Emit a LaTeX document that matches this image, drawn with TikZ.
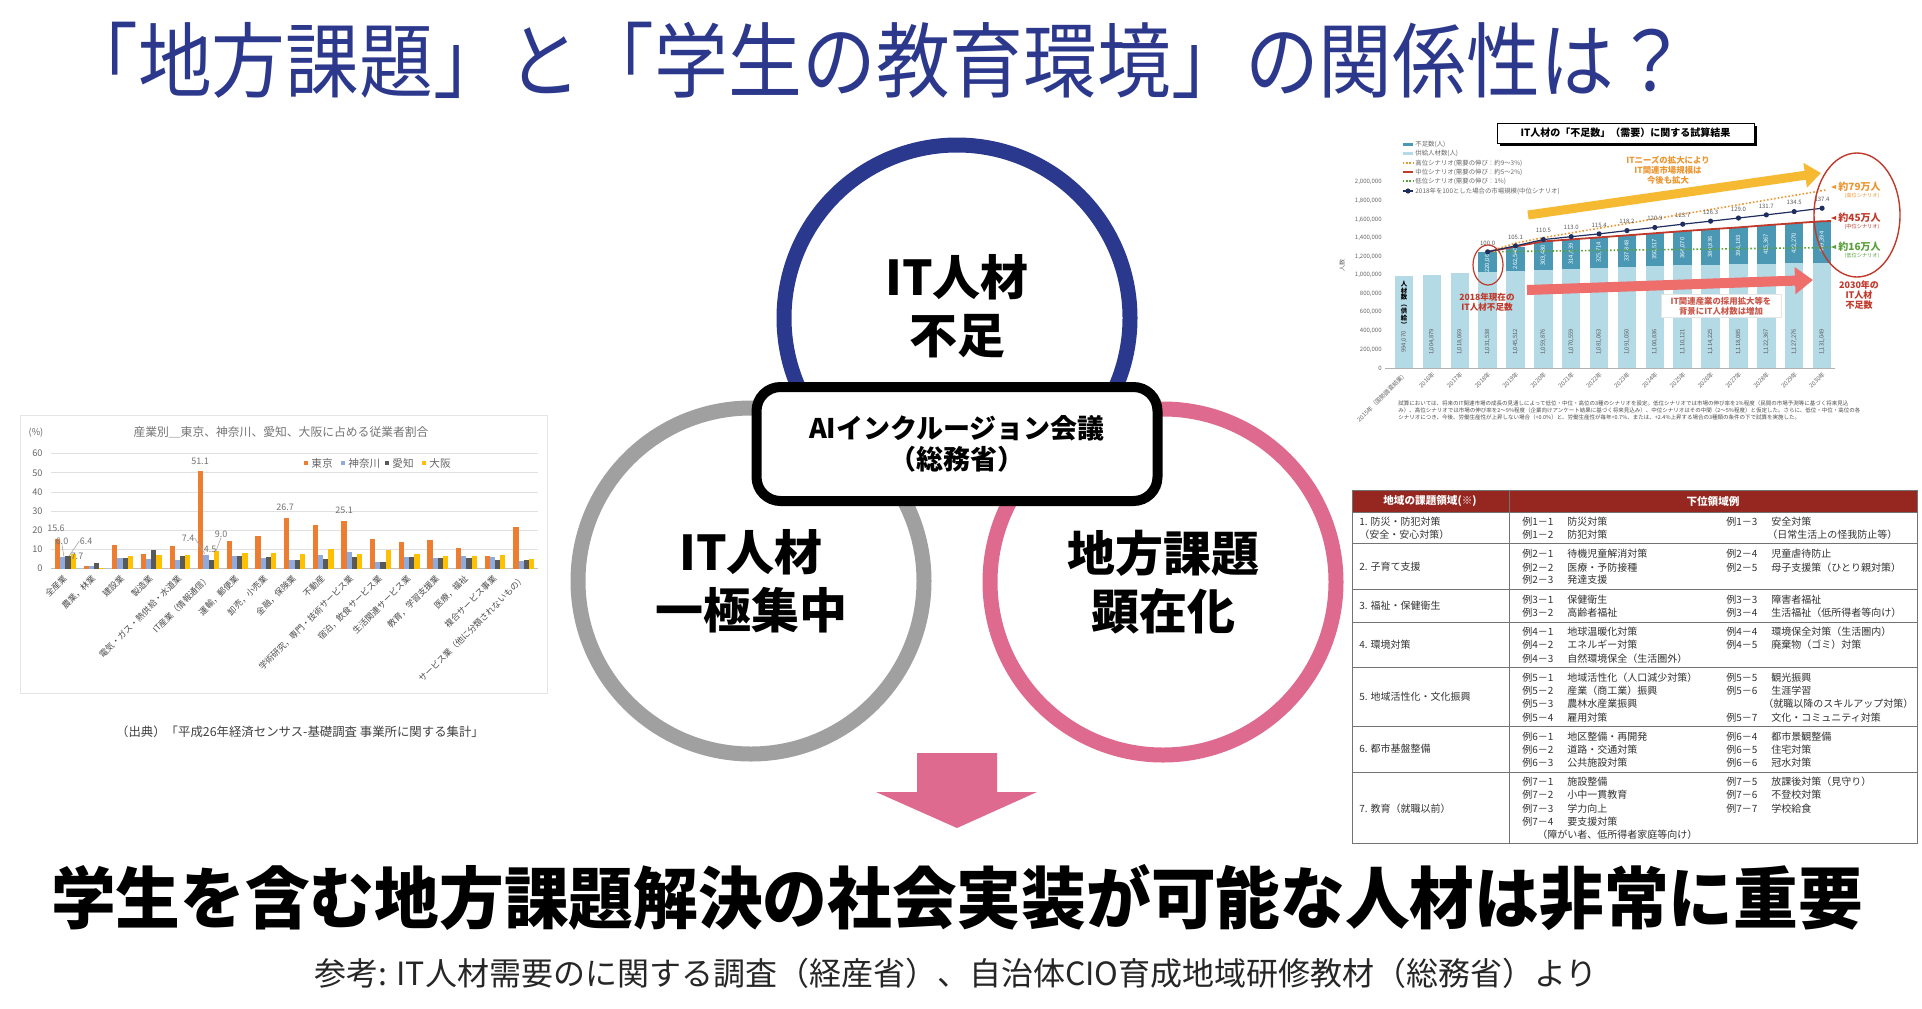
\documentclass[tikz,border=0pt]{standalone}
\usepackage{fontspec}
\setmainfont{Noto Sans CJK JP}
\usetikzlibrary{positioning,arrows.meta}

\definecolor{titleblue}{RGB}{44,56,140}
\definecolor{ringnavy}{RGB}{42,57,142}
\definecolor{ringgray}{RGB}{160,160,160}
\definecolor{ringpink}{RGB}{222,107,143}
\definecolor{bartokyo}{RGB}{237,125,49}
\definecolor{barkanagawa}{RGB}{143,170,220}
\definecolor{baraichi}{RGB}{89,89,89}
\definecolor{barosaka}{RGB}{255,192,0}
\definecolor{supplyblue}{RGB}{180,218,230}
\definecolor{shortteal}{RGB}{74,152,180}
\definecolor{marketnavy}{RGB}{31,45,95}
\definecolor{midred}{RGB}{192,57,43}
\definecolor{highorange}{RGB}{236,150,50}
\definecolor{lowgreen}{RGB}{90,160,60}
\definecolor{needyellow}{RGB}{246,185,50}
\definecolor{growsalmon}{RGB}{238,110,108}
\definecolor{tablered}{RGB}{150,38,32}
\definecolor{tabletext}{RGB}{50,50,50}

\newcommand\fsz[2]{\fontsize{#1pt}{#2pt}\selectfont}
\newcommand\ex[2]{\makebox[22.5pt][l]{#1}#2}

\begin{document}
\begin{tikzpicture}[x=0.5pt, y=-0.5pt,
  ring/.style={circle, draw, line width=7.5pt, minimum size=173pt, inner sep=0pt},
  ringtext/.style={align=center, inner sep=0pt, font=\fsz{24}{29}\bfseries},
  gridline/.style={draw=black!12, line width=0.4pt},
  indaxis/.style={font=\fsz{4.6}{5}, text=black!60, inner sep=0pt},
  catlabel/.style={font=\fsz{4.3}{5}, text=black!70, inner sep=0pt, rotate=45, anchor=east},
  datalabel/.style={font=\fsz{4.5}{5}, text=black!55, inner sep=0pt},
  legtext/.style={font=\fsz{5.3}{6}, text=black!60, inner sep=0pt, anchor=west},
  gapaxis/.style={font=\fsz{3}{3.5}, text=black!60, inner sep=0pt},
  gaplegend/.style={font=\fsz{3.2}{4}, text=black!60, inner sep=0pt, anchor=west},
  barlabel/.style={font=\fsz{2.9}{3.5}, inner sep=0pt, rotate=90},
  mktdot/.style={circle, fill=marketnavy, inner sep=0pt, minimum size=2.6pt},
  mktlabel/.style={font=\fsz{3}{3.5}, text=black!65, inner sep=0pt},
  tabtext/.style={font=\fsz{5}{6}, text=tabletext, inner sep=0pt, anchor=west},
  tabhead/.style={font=\fsz{5.3}{6}\bfseries, text=white, inner sep=0pt}
]
\useasboundingbox (0,0) rectangle (1922,1008);

% title
\node[font=\fsz{41}{44}, text=titleblue, inner sep=0pt] (title) at (876,60) {\scalebox{0.9}[1]{「地方課題」と「学生の教育環境」の関係性は？}};

% left chart: industry shares
\draw[black!10, line width=0.5pt] (20,415) rectangle (547,693);
\node[font=\fsz{5.9}{7}, text=black!55, inner sep=0pt] (indtitle) at (281,432) {産業別＿東京、神奈川、愛知、大阪に占める従業者割合};
\node[indaxis] (pct) at (36,433) {(\%)};
\foreach \v in {10,20,...,60} {
  \draw[gridline] (51,{568.7-1.917*\v}) -- (538,{568.7-1.917*\v});
}
\draw[black!25, line width=0.4pt] (51,568.7) -- (538,568.7);
\foreach \v in {0,10,...,60} {
  \node[indaxis, anchor=east] (tick\v) at (43,{568.7-1.917*\v}) {\v};
}
\foreach \i/\a/\b/\c/\d in {0/15.6/6.0/6.4/7.7, 1/1.4/1.5/2.8/0.5, 2/12.5/5.5/5.5/6.4, 3/7.8/5.0/9.9/7.0,
  4/12.0/4.5/6.6/7.3, 5/51.1/7.4/4.5/9.0, 6/14.6/6.5/6.5/8.0, 7/16.9/5.5/6.3/8.3, 8/26.7/4.3/4.5/7.8,
  9/23.0/7.3/5.0/10.4, 10/25.1/8.7/5.9/7.8, 11/15.7/3.5/3.5/10.0, 12/13.7/6.3/6.3/7.5, 13/14.8/5.7/5.7/6.8,
  14/11.0/6.5/5.7/6.6, 15/6.8/6.2/4.8/7.2, 16/21.6/4.0/4.8/5.0} {
  \pgfmathsetmacro\cx{51+28.65*(\i+0.5)}
  \fill[bartokyo] ({\cx-10.4},568.7) rectangle ({\cx-5.2},{568.7-1.917*\a});
  \fill[barkanagawa] ({\cx-5.2},568.7) rectangle ({\cx},{568.7-1.917*\b});
  \fill[baraichi] ({\cx},568.7) rectangle ({\cx+5.2},{568.7-1.917*\c});
  \fill[barosaka] ({\cx+5.2},568.7) rectangle ({\cx+10.4},{568.7-1.917*\d});
}
\foreach \i/\t in {0/全産業, 1/農業，林業, 2/建設業, 3/製造業, 4/電気・ガス・熱供給・水道業, 5/IT産業（情報通信）,
  6/運輸，郵便業, 7/卸売，小売業, 8/金融，保険業, 9/不動産, 10/学術研究，専門・技術サービス業,
  11/宿泊，飲食サービス業, 12/生活関連サービス業, 13/教育，学習支援業, 14/医療，福祉, 15/複合サービス事業,
  16/サービス業（他に分類されないもの）} {
  \node[catlabel] (cat\i) at ({51+28.65*(\i+0.5)},577) {\t};
}
% legend
\fill[bartokyo] (304,461) rectangle (308,465);
\node[legtext] (legtokyo) at (311,463) {東京};
\fill[barkanagawa] (341,461) rectangle (345,465);
\node[legtext] (legkanagawa) at (348,463) {神奈川};
\fill[baraichi] (385,461) rectangle (389,465);
\node[legtext] (legaichi) at (392,463) {愛知};
\fill[barosaka] (422,461) rectangle (426,465);
\node[legtext] (legosaka) at (429,463) {大阪};
% data labels
\node[datalabel] (lab156) at (56,528) {15.6};
\node[datalabel] (lab60) at (62,541) {6.0};
\node[datalabel] (lab64) at (86,541) {6.4};
\node[datalabel] (lab77) at (77,556) {7.7};
\node[datalabel] (lab511) at (200,461) {51.1};
\node[datalabel] (lab74) at (188,538) {7.4};
\node[datalabel] (lab45) at (210,549) {4.5};
\node[datalabel] (lab90) at (221,534) {9.0};
\node[datalabel] (lab267) at (285,507) {26.7};
\node[datalabel] (lab251) at (344,510) {25.1};
\draw[black!35, line width=0.3pt] (lab60.south) -- (64,557);
\draw[black!35, line width=0.3pt] (lab64.west) -- (69,556);
\draw[black!35, line width=0.3pt] (lab74.east) -- (205,554);
\draw[black!35, line width=0.3pt] (lab90.south) -- (216,551);
\node[font=\fsz{6.2}{7}, text=black!75, inner sep=0pt] (indsource) at (300,732) {（出典）「平成26年経済センサス-基礎調査 事業所に関する集計」};

% right chart: IT staff shortage
\fill[black] (1500,126) rectangle (1757,146);
\node[draw=black, fill=white, line width=0.4pt, minimum width=128.5pt, minimum height=10pt, inner sep=0pt,
  font=\fsz{5}{6}\bfseries] (gaptitle) at (1625.5,133) {IT人材の「不足数」（需要）に関する試算結果};
\fill[shortteal] (1403,142.5) rectangle (1413,145.5);
\node[gaplegend] (lgshort) at (1415,144) {不足数(人)};
\fill[supplyblue] (1403,151.5) rectangle (1413,154.5);
\node[gaplegend] (lgsupply) at (1415,153) {供給人材数(人)};
\draw[highorange, line width=0.7pt, dash pattern=on 0.7pt off 0.9pt] (1403,163) -- (1413,163);
\node[gaplegend] (lghigh) at (1415,163) {高位シナリオ(需要の伸び：約9〜3\%)};
\draw[midred, line width=0.8pt] (1403,172) -- (1413,172);
\node[gaplegend] (lgmid) at (1415,172) {中位シナリオ(需要の伸び：約5〜2\%)};
\draw[lowgreen, line width=0.7pt, dash pattern=on 0.7pt off 0.9pt] (1403,181) -- (1413,181);
\node[gaplegend] (lglow) at (1415,181) {低位シナリオ(需要の伸び：1\%)};
\draw[marketnavy, line width=0.6pt] (1403,191) -- (1413,191);
\node[mktdot] (lgdot) at (1408,191) {};
\node[gaplegend] (lgmkt) at (1415,191) {2018年を100とした場合の市場規模(中位シナリオ)};

\foreach \v/\t in {0/0, 200/{200,000}, 400/{400,000}, 600/{600,000}, 800/{800,000}, 1000/{1,000,000},
  1200/{1,200,000}, 1400/{1,400,000}, 1600/{1,600,000}, 1800/{1,800,000}, 2000/{2,000,000}} {
  \node[gapaxis, anchor=east] (gy\v) at (1382,{368-0.09285*\v}) {\t};
}
\node[gapaxis, rotate=90] (gapylab) at (1342,265) {人数};
\draw[black!30, line width=0.4pt] (1385,368) -- (1835,368);

\foreach \i/\s/\lab in {0/994.07/{994,070}, 1/1004.879/{1,004,879}, 2/1018.069/{1,018,069}, 3/1031.538/{1,031,538},
  4/1045.512/{1,045,512}, 5/1059.876/{1,059,876}, 6/1070.559/{1,070,559}, 7/1081.063/{1,081,063},
  8/1091.050/{1,091,050}, 9/1100.836/{1,100,836}, 10/1110.121/{1,110,121}, 11/1114.225/{1,114,225},
  12/1118.085/{1,118,085}, 13/1122.367/{1,122,367}, 14/1127.276/{1,127,276}, 15/1131.049/{1,131,049}} {
  \pgfmathsetmacro\cx{1404+27.87*\i}
  \pgfmathsetmacro\ys{368-0.09285*\s}
  \fill[supplyblue] ({\cx-9.25},368) rectangle ({\cx+9.25},\ys);
  \node[barlabel, text=black!65] (supply\i) at (\cx,342) {\lab};
}
\foreach \i/\s/\d/\lab in {3/1031.538/220.064/{220,064}, 4/1045.512/262.54/{262,540}, 5/1059.876/303.48/{303,480},
  6/1070.559/314.439/{314,439}, 7/1081.063/325.714/{325,714}, 8/1091.050/337.848/{337,848},
  9/1100.836/350.517/{350,517}, 10/1110.121/364.07/{364,070}, 11/1114.225/380.836/{380,836},
  12/1118.085/396.183/{396,183}, 13/1122.367/415.367/{415,367}, 14/1127.276/432.27/{432,270},
  15/1131.049/449.394/{449,394}} {
  \pgfmathsetmacro\cx{1404+27.87*\i}
  \pgfmathsetmacro\ys{368-0.09285*\s}
  \pgfmathsetmacro\yt{368-0.09285*(\s+\d)}
  \fill[shortteal] ({\cx-9.25},\ys) rectangle ({\cx+9.25},\yt);
  \coordinate (tot\i) at (\cx,\yt);
  \node[barlabel, text=white] (short\i) at (\cx,{(\ys+\yt)/2}) {\lab};
}
\node[font=\fsz{3.2}{3.4}\bfseries, align=center, inner sep=0pt] (supplyword) at (1404,304) {人\\材\\数\\︵\\供\\給\\︶};

\foreach \i/\t in {0/2015年（国勢調査結果）, 1/2016年, 2/2017年, 3/2018年, 4/2019年, 5/2020年, 6/2021年, 7/2022年,
  8/2023年, 9/2024年, 10/2025年, 11/2026年, 12/2027年, 13/2028年, 14/2029年, 15/2030年} {
  \node[gapaxis, rotate=45, anchor=east] (gx\i) at ({1404+27.87*\i+2},373) {\t};
}

% scenario lines
\draw[lowgreen, line width=0.8pt, dash pattern=on 0.8pt off 1pt] (tot3) -- (1833,247.5);
\draw[highorange, line width=0.8pt, dash pattern=on 0.8pt off 1pt] (tot3) -- (1516,243) -- (1544,237.5) -- (1826,190);
\draw[midred, line width=0.9pt] (tot3) \foreach \j in {4,...,15} { -- (tot\j)} -- ++(9,-0.2);
\foreach \i/\m in {3/100.0, 4/105.1, 5/110.5, 6/113.0, 7/115.4, 8/118.2, 9/120.9, 10/123.7, 11/126.3,
  12/129.0, 13/131.7, 14/134.5, 15/137.4} {
  \coordinate (mkt\i) at ({1404+27.87*\i},{251.8-1.165*(\m-100)});
}
\draw[marketnavy, line width=0.6pt] (mkt3) \foreach \j in {4,...,15} { -- (mkt\j)};
\foreach \i/\m in {3/100.0, 4/105.1, 5/110.5, 6/113.0, 7/115.4, 8/118.2, 9/120.9, 10/123.7, 11/126.3,
  12/129.0, 13/131.7, 14/134.5, 15/137.4} {
  \node[mktdot] (dot\i) at (mkt\i) {};
  \node[mktlabel, above=1.6pt of dot\i] (mlab\i) {\m};
}

% trend arrows and notes
\draw[needyellow, line width=4.5pt, -{Triangle[length=8pt, width=12pt]}] (1528,215) -- (1821,173);
\node[font=\fsz{4.2}{5}\bfseries, text=highorange, align=center, inner sep=0pt] (needtext) at (1668,170) {ITニーズの拡大により\\IT関連市場規模は\\今後も拡大};
\draw[growsalmon, line width=5pt, -{Triangle[length=9pt, width=13pt]}] (1527,290) -- (1813,280);
\node[draw=black!10, fill=white, line width=0.3pt, font=\fsz{4.2}{5}\bfseries, text=midred!85, align=center,
  minimum width=60pt, minimum height=11.5pt, inner sep=0pt] (growtext) at (1721,306) {IT関連産業の採用拡大等を\\背景にIT人材数は増加};
\draw[midred, line width=0.6pt] (1488,265) ellipse [x radius=15, y radius=20];
\node[font=\fsz{4.3}{5}\bfseries, text=midred, align=center, inner sep=0pt] (now2018) at (1487,302) {2018年現在の\\IT人材不足数};
\draw[midred, line width=0.7pt] (1857,215) ellipse [x radius=43, y radius=62];
\fill[highorange] (1836,185) -- (1836,189) -- (1831,187) -- cycle;
\node[font=\fsz{5}{6}\bfseries, text=highorange, anchor=west, inner sep=0pt] (high79) at (1838,187) {約79万人};
\node[font=\fsz{2.6}{3}, text=highorange, inner sep=0pt] (high79s) at (1862,196) {(高位シナリオ)};
\fill[midred] (1836,216) -- (1836,220) -- (1831,218) -- cycle;
\node[font=\fsz{5}{6}\bfseries, text=midred, anchor=west, inner sep=0pt] (mid45) at (1838,218) {約45万人};
\node[font=\fsz{2.6}{3}, text=midred, inner sep=0pt] (mid45s) at (1862,227) {(中位シナリオ)};
\fill[lowgreen] (1836,245) -- (1836,249) -- (1831,247) -- cycle;
\node[font=\fsz{5}{6}\bfseries, text=lowgreen, anchor=west, inner sep=0pt] (low16) at (1838,247) {約16万人};
\node[font=\fsz{2.6}{3}, text=lowgreen, inner sep=0pt] (low16s) at (1862,256) {(低位シナリオ)};
\node[font=\fsz{4.5}{5}\bfseries, text=midred, align=center, inner sep=0pt] (gap2030) at (1859,295) {2030年の\\IT人材\\不足数};
\node[font=\fsz{2.75}{3.5}, text=black!70, align=left, anchor=west, inner sep=0pt] (gapnote) at (1398,410)
  {試算においては、将来のIT関連市場の成長の見通しによって低位・中位・高位の3種のシナリオを設定。低位シナリオでは市場の伸び率を1\%程度（民間の市場予測等に基づく将来見込\\
   み）、高位シナリオでは市場の伸び率を2〜9\%程度（企業向けアンケート結果に基づく将来見込み）、中位シナリオはその中間（2〜5\%程度）と仮定した。さらに、低位・中位・高位の各\\
   シナリオにつき、今後、労働生産性が上昇しない場合（+0.0\%）と、労働生産性が毎年+0.7\%、または、+2.4\%上昇する場合の3種類の条件の下で試算を実施した。};

% table of regional issues
\fill[tablered] (1352,490) rectangle (1917,512);
\node[tabhead] (hdarea) at (1430,501) {地域の課題領域(※)};
\node[tabhead] (hdsub) at (1713,501) {下位領域例};
\foreach \y in {512,543,589,622,667,726,772} {
  \draw[black!55, line width=0.5pt] (1352,\y) -- (1917,\y);
}
\draw[black!55, line width=0.5pt] (1352,490) rectangle (1917,843);
\draw[black!55, line width=0.5pt] (1509,490) -- (1509,843);
\node[tabtext] (area1) at (1359,521.7) {1. 防災・防犯対策};
\node[tabtext] (area1b) at (1359,534.3) {（安全・安心対策）};
\node[tabtext] (area2) at (1359,567) {2. 子育て支援};
\node[tabtext] (area3) at (1359,606) {3. 福祉・保健衛生};
\node[tabtext] (area4) at (1359,645) {4. 環境対策};
\node[tabtext] (area5) at (1359,697) {5. 地域活性化・文化振興};
\node[tabtext] (area6) at (1359,749) {6. 都市基盤整備};
\node[tabtext] (area7) at (1359,809) {7. 教育（就職以前）};
\foreach \x/\y/\t [count=\k] in {
  1522/521.7/\ex{例1－1}{防災対策}, 1522/534.3/\ex{例1－2}{防犯対策},
  1726/521.7/\ex{例1－3}{安全対策}, 1767/534.3/{（日常生活上の怪我防止等）},
  1522/554/\ex{例2－1}{待機児童解消対策}, 1522/567.3/\ex{例2－2}{医療・予防接種}, 1522/580/\ex{例2－3}{発達支援},
  1726/554/\ex{例2－4}{児童虐待防止}, 1726/567.3/\ex{例2－5}{母子支援策（ひとり親対策）},
  1522/599.3/\ex{例3－1}{保健衛生}, 1522/612.7/\ex{例3－2}{高齢者福祉},
  1726/599.3/\ex{例3－3}{障害者福祉}, 1726/612.7/\ex{例3－4}{生活福祉（低所得者等向け）},
  1522/631.7/\ex{例4－1}{地球温暖化対策}, 1522/645/\ex{例4－2}{エネルギー対策}, 1522/658.3/\ex{例4－3}{自然環境保全（生活圏外）},
  1726/631.7/\ex{例4－4}{環境保全対策（生活圏内）}, 1726/645/\ex{例4－5}{廃棄物（ゴミ）対策},
  1522/677.7/\ex{例5－1}{地域活性化（人口減少対策）}, 1522/690.7/\ex{例5－2}{産業（商工業）振興},
  1522/704/\ex{例5－3}{農林水産業振興}, 1522/717.3/\ex{例5－4}{雇用対策},
  1726/677.7/\ex{例5－5}{観光振興}, 1726/690.7/\ex{例5－6}{生涯学習}, 1763/704/{（就職以降のスキルアップ対策）},
  1726/717.3/\ex{例5－7}{文化・コミュニティ対策},
  1522/736.7/\ex{例6－1}{地区整備・再開発}, 1522/749.3/\ex{例6－2}{道路・交通対策}, 1522/762.7/\ex{例6－3}{公共施設対策},
  1726/736.7/\ex{例6－4}{都市景観整備}, 1726/749.3/\ex{例6－5}{住宅対策}, 1726/762.7/\ex{例6－6}{冠水対策},
  1522/781.7/\ex{例7－1}{施設整備}, 1522/795/\ex{例7－2}{小中一貫教育}, 1522/808.3/\ex{例7－3}{学力向上},
  1522/821.7/\ex{例7－4}{要支援対策}, 1537/835/{（障がい者、低所得者家庭等向け）},
  1726/781.7/\ex{例7－5}{放課後対策（見守り）}, 1726/795/\ex{例7－6}{不登校対策}, 1726/808.3/\ex{例7－7}{学校給食}} {
  \node[tabtext] (ent\k) at (\x,\y) {\t};
}

% three rings and the meeting box
\node[ring, draw=ringnavy] (shortage) at (957,318) {};
\node[ring, draw=ringgray] (concentration) at (751,581) {};
\node[ring, draw=ringpink] (regional) at (1163,582) {};
\node[ringtext] (shortagetext) at (957,306) {IT人材\\不足};
\node[ringtext] (concentrationtext) at (751,581) {IT人材\\一極集中};
\node[ringtext] (regionaltext) at (1163,582) {地方課題\\顕在化};
\node[draw, line width=5pt, rounded corners=12pt, fill=white, minimum width=200.5pt, minimum height=57pt,
  align=center, font=\fsz{13.5}{15.5}\bfseries] (aibox) at (957,444) {AIインクルージョン会議\\（総務省）};

% down arrow
\fill[ringpink] (917,753) -- (997,753) -- (997,792) -- (1037,792) -- (957,828) -- (876,792) -- (917,792) -- cycle;

% conclusion and sources
\node[font=\fsz{33.7}{38}\bfseries, inner sep=0pt] (conclusion) at (957,898) {\scalebox{0.96}[1]{学生を含む地方課題解決の社会実装が可能な人材は非常に重要}};
\node[font=\fsz{16}{18}, text=black!85, inner sep=0pt] (source) at (956,973) {参考: IT人材需要のに関する調査（経産省）、自治体CIO育成地域研修教材（総務省）より};
\end{tikzpicture}
\end{document}
